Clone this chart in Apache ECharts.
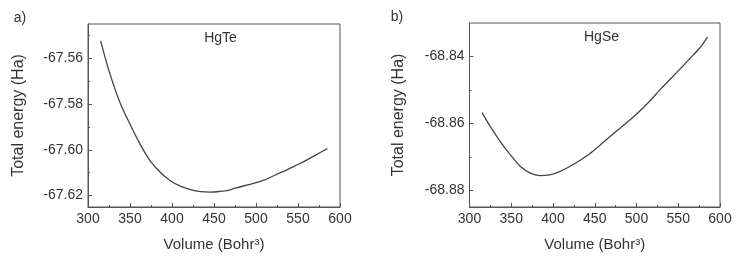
<!DOCTYPE html>
<html>
<head>
<meta charset="utf-8">
<script src="https://cdn.jsdelivr.net/npm/echarts@6/dist/echarts.min.js"></script>
<style>
  html, body { margin: 0; padding: 0; background: #fff; }
  #chart { width: 740px; height: 257px; }
</style>
</head>
<body>
<div id="chart"></div>
<script>
// HgTe (panel a)
const hgteVolume = [315, 325, 338, 350, 362, 374, 386, 398, 410, 422, 434, 446, 457, 467, 475, 487, 499, 511, 523, 535, 547, 559, 571, 585];
const hgteEnergy = [-67.5524, -67.5655, -67.5793, -67.5888, -67.5975, -67.6048, -67.6098, -67.6135, -67.6159, -67.6174, -67.6183, -67.6185, -67.6182, -67.6177, -67.6168, -67.6156, -67.6145, -67.613, -67.611, -67.6091, -67.6069, -67.6047, -67.6023, -67.5995];
// HgSe (panel b)
const hgseVolume = [315, 325, 337, 349, 361, 373, 384, 396, 408, 420, 432, 444, 456, 468, 480, 492, 504, 516, 528, 540, 552, 564, 576, 585];
const hgseEnergy = [-68.8568, -68.861, -68.8655, -68.8694, -68.8729, -68.8749, -68.8756, -68.8754, -68.8744, -68.8729, -68.8711, -68.8691, -68.8666, -68.864, -68.8615, -68.859, -68.8563, -68.8533, -68.85, -68.8469, -68.8438, -68.8406, -68.8374, -68.8342];

const hgteMajor = [-67.62, -67.60, -67.58, -67.56];
const hgteMinor = [-67.61, -67.59, -67.57, -67.55];
const hgseMajor = [-68.88, -68.86, -68.84];
const hgseMinor = [-68.87, -68.85];

const FONT = "'Liberation Sans', Arial, sans-serif";
const TEXT = "#333";
const AXIS = "#555";

function pairs(xs, ys) {
  return xs.map((x, i) => [x, ys[i]]);
}

function xAxisOf(idx) {
  return {
    gridIndex: idx,
    type: "value",
    min: 300,
    max: 600,
    interval: 50,
    name: "Volume (Bohr³)",
    nameLocation: "middle",
    nameGap: 30,
    nameTextStyle: { fontFamily: FONT, fontSize: 15, color: TEXT },
    axisLine: { show: true, lineStyle: { color: AXIS, width: 1 } },
    axisTick: { show: true, inside: true, length: 4, lineStyle: { color: AXIS } },
    minorTick: { show: true, splitNumber: 2, length: 2, lineStyle: { color: AXIS } },
    axisLabel: { fontFamily: FONT, fontSize: 14, color: TEXT, margin: 5 },
    splitLine: { show: false },
  };
}

function yAxesOf(idx, min, max, major, minor, gap) {
  return [
    {
      gridIndex: idx,
      type: "value",
      min: min,
      max: max,
      position: "left",
      name: "Total energy (Ha)",
      nameLocation: "middle",
      nameGap: gap,
      nameTextStyle: { fontFamily: FONT, fontSize: 16, color: TEXT },
      axisLine: { show: true, lineStyle: { color: AXIS, width: 1 } },
      axisTick: { show: true, inside: true, length: 4, customValues: major, lineStyle: { color: AXIS } },
      axisLabel: {
        fontFamily: FONT, fontSize: 14, color: TEXT, margin: 5,
        customValues: major,
        formatter: (v) => v.toFixed(2),
      },
      splitLine: { show: false },
    },
    {
      // minor ticks only
      gridIndex: idx,
      type: "value",
      min: min,
      max: max,
      position: "left",
      axisLine: { show: false },
      axisTick: { show: true, inside: true, length: 2, customValues: minor, lineStyle: { color: AXIS } },
      axisLabel: { show: false },
      splitLine: { show: false },
    },
  ];
}

const chart = echarts.init(document.getElementById("chart"));
const option = {
  animation: false,
  backgroundColor: "#fff",
  grid: [
    { left: 88, top: 24, width: 252, height: 184, show: true, borderColor: AXIS, borderWidth: 1 },
    { left: 469.5, top: 23, width: 250.5, height: 184, show: true, borderColor: AXIS, borderWidth: 1 },
  ],
  xAxis: [xAxisOf(0), xAxisOf(1)],
  yAxis: [
    ...yAxesOf(0, -67.625, -67.545, hgteMajor, hgteMinor, 61),
    ...yAxesOf(1, -68.885, -68.83, hgseMajor, hgseMinor, 63),
  ],
  series: [
    {
      type: "line",
      xAxisIndex: 0,
      yAxisIndex: 0,
      data: pairs(hgteVolume, hgteEnergy),
      smooth: 0.3,
      showSymbol: false,
      lineStyle: { color: "#444", width: 1.3 },
    },
    {
      type: "line",
      xAxisIndex: 1,
      yAxisIndex: 2,
      data: pairs(hgseVolume, hgseEnergy),
      smooth: 0.3,
      showSymbol: false,
      lineStyle: { color: "#444", width: 1.3 },
    },
  ],
  graphic: [
    { type: "text", style: { x: 20, y: 18, text: "a)", font: "14px " + FONT, fill: TEXT, textAlign: "center", textVerticalAlign: "middle" } },
    { type: "text", style: { x: 397, y: 17, text: "b)", font: "14px " + FONT, fill: TEXT, textAlign: "center", textVerticalAlign: "middle" } },
    { type: "text", style: { x: 220.5, y: 38, text: "HgTe", font: "14px " + FONT, fill: TEXT, textAlign: "center", textVerticalAlign: "middle" } },
    { type: "text", style: { x: 601.5, y: 37, text: "HgSe", font: "14px " + FONT, fill: TEXT, textAlign: "center", textVerticalAlign: "middle" } },
  ],
};
chart.setOption(option);
</script>
</body>
</html>
